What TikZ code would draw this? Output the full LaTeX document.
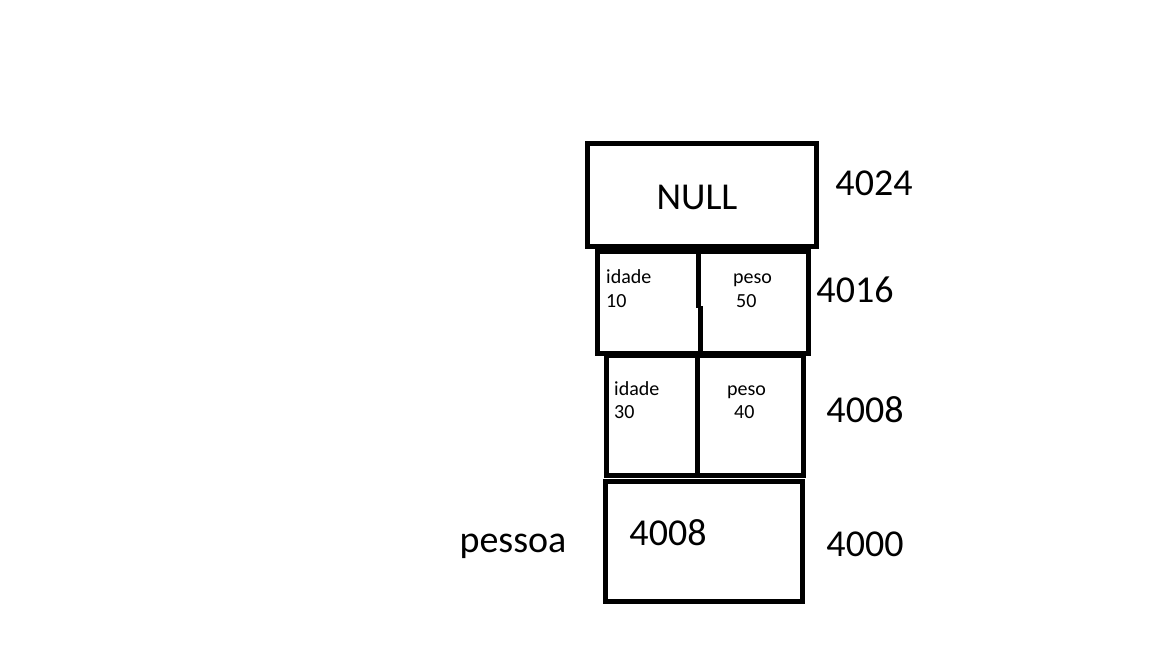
\documentclass[tikz,border=0pt]{standalone}
\usepackage{fontspec}
\setmainfont{Carlito}
\begin{document}
\begin{tikzpicture}[x=1pt, y=-1pt,
    cell/.style={line width=5pt},
    big/.style={font=\fontsize{38}{40}\selectfont, inner sep=0, anchor=base},
    small/.style={font=\fontsize{20}{22}\selectfont, inner sep=0, anchor=base west}]
    \useasboundingbox (0,0) rectangle (1152,648);

    % Box holding NULL
    \draw[cell] (587,143) rectangle (816,246);
    \node[big] (null) at (697,209) {NULL};
    \node[big] (a4024) at (874,195) {4024};

    % Struct at 4016
    \draw[cell] (597,251) rectangle (808,353);
    \draw[cell] (698,251) -- (698,308);
    \draw[cell] (700,306) -- (700,353);
    \node[small] (idadeA) at (606,283) {idade};
    \node[small] (idadeAv) at (606,307) {10};
    \node[small] (pesoA) at (733,283) {peso};
    \node[small] (pesoAv) at (736,307) {50};
    \node[big] (a4016) at (855,302) {4016};

    % Struct at 4008
    \draw[cell] (606,355) rectangle (803,475);
    \draw[cell] (697,355) -- (697,475);
    \node[small] (idadeB) at (614,395) {idade};
    \node[small] (idadeBv) at (614,418) {30};
    \node[small] (pesoB) at (727,395) {peso};
    \node[small] (pesoBv) at (734,418) {40};
    \node[big] (a4008) at (865,422) {4008};

    % Pointer pessoa at 4000
    \draw[cell] (605,481) rectangle (802,601);
    \node[big] (ptr) at (668,545) {4008};
    \node[big] (a4000) at (865,556) {4000};
    \node[big] (pessoa) at (513,552) {pessoa};
\end{tikzpicture}
\end{document}
